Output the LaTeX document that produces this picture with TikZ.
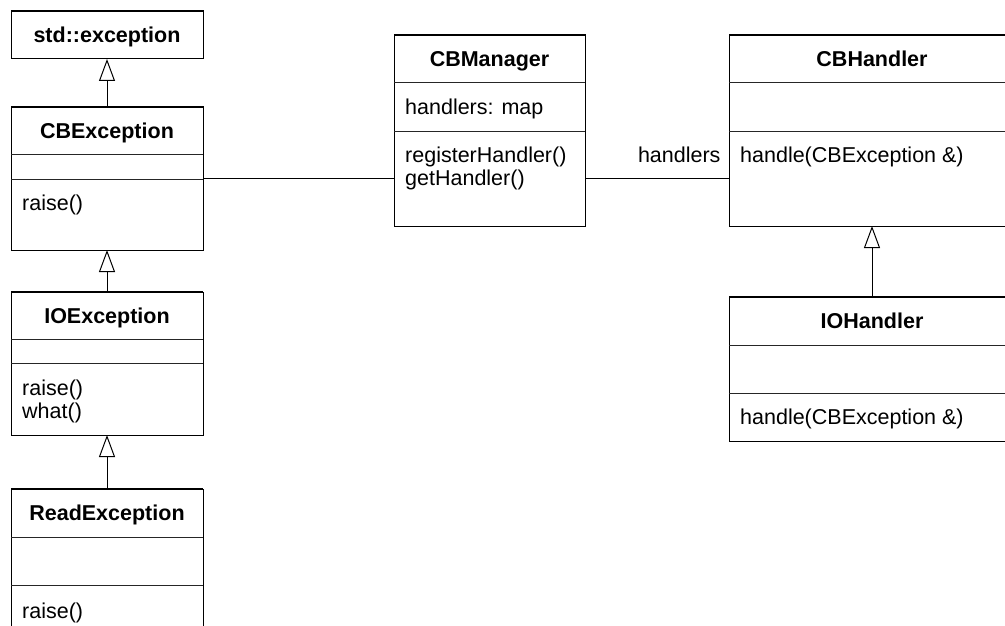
\documentclass[tikz,border=0pt]{standalone}
\usepackage{fontspec}
\setmainfont{Liberation Sans}
\usetikzlibrary{arrows.meta,calc}
\begin{document}
\begin{tikzpicture}[x=1pt,y=-1pt,
  umlbox/.style={draw=black,line width=1pt,inner sep=0pt,outer sep=0pt,anchor=north west},
  divline/.style={line width=1pt,draw=black!85},
  topline/.style={line width=2pt,draw=black},
  ttl/.style={inner sep=0pt,anchor=base,font=\fontsize{21.5}{24}\selectfont\bfseries},
  mem/.style={inner sep=0pt,anchor=base west,font=\fontsize{21.5}{24}\selectfont},
  inherit/.style={line width=1pt,-{Triangle[open,length=22pt,width=16pt,line width=1pt]}},
  assoc/.style={line width=1pt}]
\useasboundingbox (0,0) rectangle (1005,626);
\clip (0,0) rectangle (1005,626);
% std::exception
\node[umlbox,minimum width=192pt,minimum height=48pt] (stdexc) at (11,11) {};
\draw[topline] (stdexc.north west) -- (stdexc.north east);
\node[ttl] (stdexcT) at (107,42.7) {std::exception};
% CBException
\node[umlbox,minimum width=192pt,minimum height=143pt] (cbexc) at (11,107) {};
\draw[topline] (cbexc.north west) -- (cbexc.north east);
\draw[divline] (11,154) -- (203,154);
\draw[divline] (11,179) -- (203,179);
\node[ttl] (cbexcT) at (107,138.2) {CBException};
\node[mem] (cbexcM1) at (22,210.7) {raise()};
% IOException
\node[umlbox,minimum width=192pt,minimum height=143pt] (ioexc) at (11,292) {};
\draw[topline] (ioexc.north west) -- (ioexc.north east);
\draw[divline] (11,339) -- (203,339);
\draw[divline] (11,363) -- (203,363);
\node[ttl] (ioexcT) at (107,323.2) {IOException};
\node[mem] (ioexcM1) at (22,395.2) {raise()};
\node[mem] (ioexcM2) at (22,418.2) {what()};
% ReadException
\node[umlbox,minimum width=192pt,minimum height=150pt] (readexc) at (11,489) {};
\draw[topline] (readexc.north west) -- (readexc.north east);
\draw[divline] (11,537) -- (203,537);
\draw[divline] (11,585) -- (203,585);
\node[ttl] (readexcT) at (107,520.7) {ReadException};
\node[mem] (readexcM1) at (22,618.7) {raise()};
% CBManager
\node[umlbox,minimum width=191pt,minimum height=191pt] (cbman) at (394,35) {};
\draw[topline] (cbman.north west) -- (cbman.north east);
\draw[divline] (394,83) -- (585,83);
\draw[divline] (394,131) -- (585,131);
\node[ttl] (cbmanT) at (489.5,66.7) {CBManager};
\node[mem] (cbmanA1) at (405,114.7) {handlers: map};
\node[mem] (cbmanM1) at (405,162.7) {registerHandler()};
\node[mem] (cbmanM2) at (405,185.7) {getHandler()};
% CBHandler
\node[umlbox,minimum width=286pt,minimum height=191pt] (cbhand) at (729,35) {};
\draw[topline] (cbhand.north west) -- (cbhand.north east);
\draw[divline] (729,83) -- (1015,83);
\draw[divline] (729,131) -- (1015,131);
\node[ttl] (cbhandT) at (872,66.7) {CBHandler};
\node[mem] (cbhandM1) at (740,162.7) {handle(CBException \&)};
% IOHandler
\node[umlbox,minimum width=286pt,minimum height=144pt] (iohand) at (729,297) {};
\draw[topline] (iohand.north west) -- (iohand.north east);
\draw[divline] (729,345) -- (1015,345);
\draw[divline] (729,393) -- (1015,393);
\node[ttl] (iohandT) at (872,328.7) {IOHandler};
\node[mem] (iohandM1) at (740,424.7) {handle(CBException \&)};
% connectors
\draw[inherit] (cbexc.north) -- (stdexc.south);
\draw[inherit] (ioexc.north) -- (cbexc.south);
\draw[inherit] (readexc.north) -- (ioexc.south);
\draw[inherit] (iohand.north) -- (cbhand.south);
\draw[assoc] (cbexc.east) -- (cbexc.east -| cbman.west);
\coordinate (assocY) at (0,178);
\draw[assoc] (cbman.east |- assocY) -- (cbhand.west |- assocY)
  node[pos=1,anchor=base east,inner sep=0pt,xshift=-8pt,yshift=15.3pt,font=\fontsize{21.5}{24}\selectfont] (handlersL) {handlers};
\end{tikzpicture}
\end{document}
